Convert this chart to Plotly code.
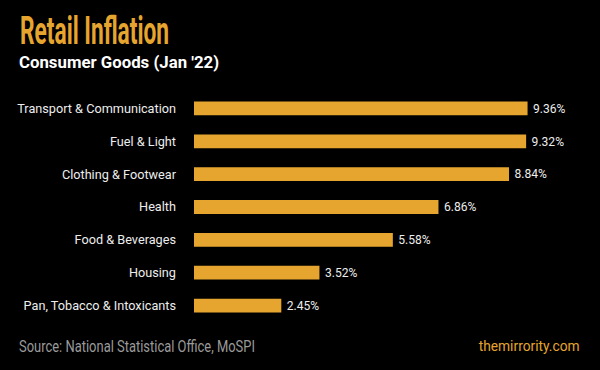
import plotly.graph_objects as go

categories = ["Transport & Communication", "Fuel & Light", "Clothing & Footwear",
              "Health", "Food & Beverages", "Housing", "Pan, Tobacco & Intoxicants"]
values = [9.36, 9.32, 8.84, 6.86, 5.58, 3.52, 2.45]

title = "Retail Inflation"
subtitle = "Consumer Goods (Jan '22)"
source = "Source: National Statistical Office, MoSPI"
brand = "themirrority.com"

FW, FH = 600, 370
L, R, T, B = 194, 14, 92, 48
W, H = FW - L - R, FH - T - B

def px(x):
    return (x - L) / W

def py(y):
    return (FH - B - y) / H

ORANGE = "#E6A52E"

fig = go.Figure(go.Bar(
    x=values, y=categories, orientation="h",
    marker=dict(color=ORANGE, line=dict(width=0)),
    width=0.42,
    text=["\u2009" + f"{v:.2f}%" for v in values],
    textposition="outside",
    textfont=dict(family="Roboto", size=14, color="#EDEDED"),
    cliponaxis=False,
    hoverinfo="skip",
))

fig.update_layout(
    width=FW, height=FH,
    margin=dict(l=L, r=R, t=T, b=B),
    paper_bgcolor="#000000", plot_bgcolor="#000000",
    showlegend=False,
    xaxis=dict(range=[0, 11], visible=False, fixedrange=True),
    yaxis=dict(autorange="reversed", showgrid=False, zeroline=False, showline=False,
               ticks="", ticklabelstandoff=17, fixedrange=True,
               tickfont=dict(family="Roboto", size=12.7, color="#EDEDED")),
    font=dict(family="Roboto"),
)

anns = [
    dict(text=f"<b>{title}</b>", x=px(18), y=py(31), xanchor="left", yanchor="middle",
         font=dict(family="Roboto", size=38, color=ORANGE)),
    dict(text=f"<b>{subtitle}</b>", x=px(17), y=py(62), xanchor="left", yanchor="middle",
         font=dict(family="Roboto", size=16.8, color="#FFFFFF")),
    dict(text=source, x=px(17), y=py(346), xanchor="left", yanchor="middle",
         font=dict(family="Roboto", size=16, color="#9A9A9A")),
    dict(text=brand, x=px(582), y=py(346), xanchor="right", yanchor="middle",
         font=dict(family="Roboto", size=15.5, color=ORANGE)),
]
for a in anns:
    a.update(xref="paper", yref="paper", showarrow=False)
fig.update_layout(annotations=anns)

post = """
document.body.style.margin = '0';
document.body.style.background = '#000';
var gd = document.getElementById('{plot_id}');
var targets = [[149, 'left'], null, [236, 'left'], [101, 'right']];
function condense() {
  var t = gd.querySelectorAll('.annotation-text');
  for (var i = 0; i < t.length && i < targets.length; i++) {
    if (!targets[i]) continue;
    var el = t[i];
    el.style.transform = '';
    var w = el.getBBox().width;
    var s = targets[i][0] / w;
    el.style.transformBox = 'fill-box';
    el.style.transformOrigin = targets[i][1] + ' center';
    el.style.transform = 'scaleX(' + s + ')';
  }
}
condense();
gd.on('plotly_afterplot', condense);
"""

fig.write_html("out.html", post_script=post, config={"displayModeBar": False})
